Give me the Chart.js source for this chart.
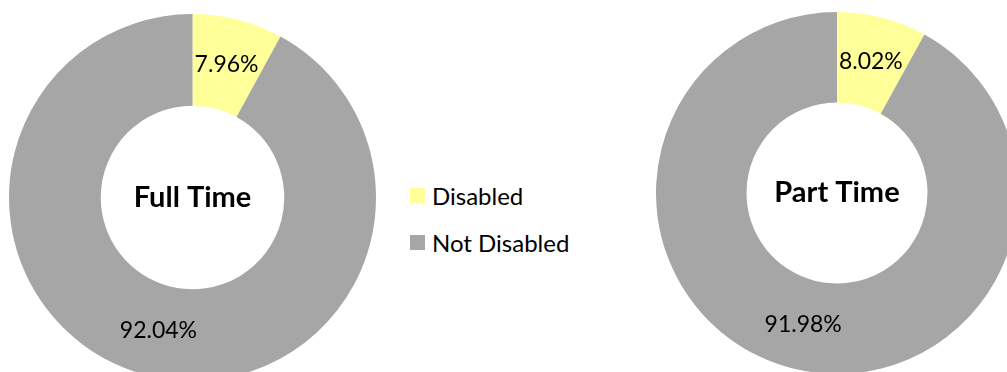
<!DOCTYPE html>
<html>
<head>
<meta charset="utf-8">
<script src="https://cdn.jsdelivr.net/npm/chart.js@4"></script>
<style>
  body { margin: 0; background: #fff; }
  #wrap { position: relative; width: 1007px; height: 372px; overflow: hidden; font-family: Lato, sans-serif; }
  .pie { position: absolute; }
  #full { left: 9px; top: 14px; width: 367px; height: 367px; }
  #part { left: 656px; top: 12px; width: 362px; height: 362px; }
  #legend { position: absolute; left: 410px; top: 172px; }
  .item { display: flex; align-items: center; height: 47px; font-size: 24px; color: #000; }
  .box { width: 15px; height: 15px; margin-right: 7px; }
</style>
</head>
<body>
<div id="wrap">
  <div class="pie" id="full"><canvas id="full-chart"></canvas></div>
  <div class="pie" id="part"><canvas id="part-chart"></canvas></div>
  <div id="legend"></div>
</div>
<script>
const categories = ['Disabled', 'Not Disabled'];
const fullTime = [7.96, 92.04];
const partTime = [8.02, 91.98];
const titles = ['Full Time', 'Part Time'];
const colors = ['#FFFF99', '#A6A6A6'];

// percent labels in the middle of each ring segment + title in the hole
const labelPlugin = {
    id: 'labels',
    afterDraw(chart) {
        const ctx = chart.ctx;
        const meta = chart.getDatasetMeta(0);
        const values = chart.data.datasets[0].data;
        ctx.save();
        ctx.fillStyle = '#000';
        ctx.textAlign = 'center';
        ctx.textBaseline = 'middle';
        ctx.font = '23px Lato, sans-serif';
        meta.data.forEach((arc, i) => {
            const pos = arc.tooltipPosition();
            ctx.fillText(values[i].toFixed(2) + '%', pos.x, pos.y);
        });
        const area = chart.chartArea;
        ctx.font = 'bold 29px Lato, sans-serif';
        ctx.fillText(chart.options.plugins.centerTitle, (area.left + area.right) / 2, (area.top + area.bottom) / 2);
        ctx.restore();
    }
};

function makeChart(id, values, title) {
    new Chart(document.getElementById(id).getContext('2d'), {
        type: 'doughnut',
        data: {
            labels: categories,
            datasets: [{
                data: values,
                backgroundColor: colors,
                borderWidth: 0
            }]
        },
        options: {
            responsive: true,
            maintainAspectRatio: false,
            animation: false,
            cutout: '50%',
            layout: { padding: 0 },
            plugins: {
                legend: { display: false },
                tooltip: { enabled: false },
                centerTitle: title
            }
        },
        plugins: [labelPlugin]
    });
}

makeChart('full-chart', fullTime, titles[0]);
makeChart('part-chart', partTime, titles[1]);

const legend = document.getElementById('legend');
categories.forEach((name, i) => {
    const item = document.createElement('div');
    item.className = 'item';
    const box = document.createElement('span');
    box.className = 'box';
    box.style.background = colors[i];
    item.appendChild(box);
    item.appendChild(document.createTextNode(name));
    legend.appendChild(item);
});
</script>
</body>
</html>
